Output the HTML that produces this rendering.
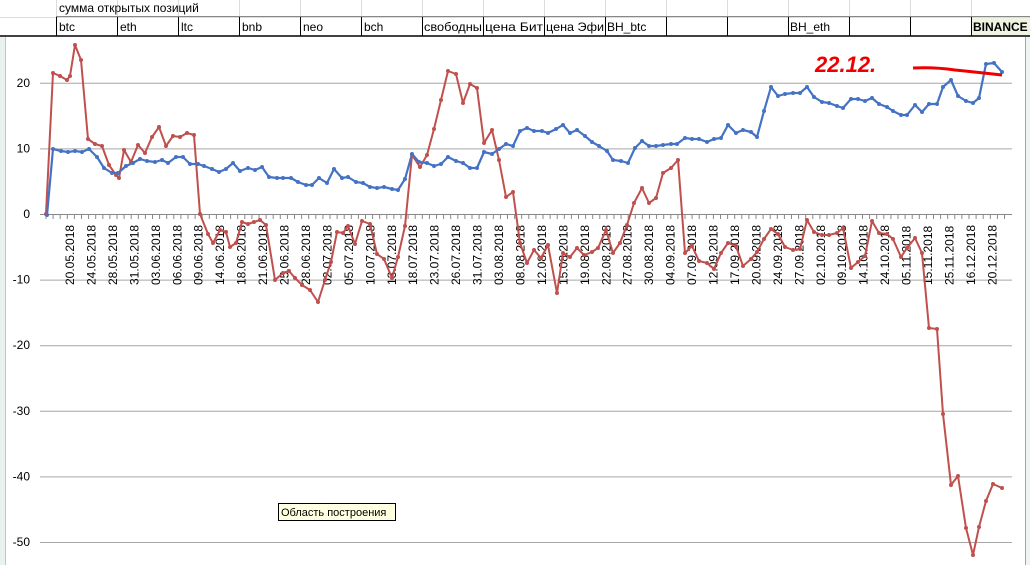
<!DOCTYPE html>
<html><head><meta charset="utf-8"><style>
html,body{margin:0;padding:0;width:1030px;height:565px;overflow:hidden;background:#fff;font-family:"Liberation Sans","DejaVu Sans",sans-serif}
svg{position:absolute;left:0;top:0}
</style></head><body>
<svg id="s" width="1030" height="565" xmlns="http://www.w3.org/2000/svg" font-family="Liberation Sans, DejaVu Sans, sans-serif">
<rect x="0" y="0" width="1030" height="36" fill="#fff"/>
<rect x="971" y="17" width="59" height="19" fill="#eef3e2"/>
<g stroke="#dadcdd" stroke-width="1">
<line x1="0" y1="17.5" x2="1030" y2="17.5"/>
<line x1="56.5" y1="0" x2="56.5" y2="17"/><line x1="117.5" y1="0" x2="117.5" y2="17"/><line x1="178.5" y1="0" x2="178.5" y2="17"/><line x1="239.5" y1="0" x2="239.5" y2="17"/><line x1="300.5" y1="0" x2="300.5" y2="17"/><line x1="361.5" y1="0" x2="361.5" y2="17"/><line x1="422.5" y1="0" x2="422.5" y2="17"/><line x1="483.5" y1="0" x2="483.5" y2="17"/><line x1="544.5" y1="0" x2="544.5" y2="17"/><line x1="605.5" y1="0" x2="605.5" y2="17"/><line x1="666.5" y1="0" x2="666.5" y2="17"/><line x1="727.5" y1="0" x2="727.5" y2="17"/><line x1="788.5" y1="0" x2="788.5" y2="17"/><line x1="849.5" y1="0" x2="849.5" y2="17"/><line x1="910.5" y1="0" x2="910.5" y2="17"/><line x1="971.5" y1="0" x2="971.5" y2="17"/>
</g>
<g stroke="#000" stroke-width="1">
<line x1="56" y1="16.5" x2="1030" y2="16.5" stroke="#888"/>
<line x1="0" y1="36" x2="1030" y2="36" stroke-width="1.5"/>
<line x1="56.5" y1="17" x2="56.5" y2="36"/><line x1="117.5" y1="17" x2="117.5" y2="36"/><line x1="178.5" y1="17" x2="178.5" y2="36"/><line x1="239.5" y1="17" x2="239.5" y2="36"/><line x1="300.5" y1="17" x2="300.5" y2="36"/><line x1="361.5" y1="17" x2="361.5" y2="36"/><line x1="422.5" y1="17" x2="422.5" y2="36"/><line x1="483.5" y1="17" x2="483.5" y2="36"/><line x1="544.5" y1="17" x2="544.5" y2="36"/><line x1="605.5" y1="17" x2="605.5" y2="36"/><line x1="666.5" y1="17" x2="666.5" y2="36"/><line x1="727.5" y1="17" x2="727.5" y2="36"/><line x1="788.5" y1="17" x2="788.5" y2="36"/><line x1="849.5" y1="17" x2="849.5" y2="36"/><line x1="910.5" y1="17" x2="910.5" y2="36"/><line x1="971.5" y1="17" x2="971.5" y2="36"/>
</g>
<g font-size="12" fill="#000">
<text x="59" y="12">сумма открытых позиций</text>
<text x="59" y="31">btc</text><text x="120" y="31">eth</text><text x="181" y="31">ltc</text><text x="242" y="31">bnb</text><text x="303" y="31">neo</text><text x="364" y="31">bch</text>
<text x="424" y="31" textLength="58" lengthAdjust="spacingAndGlyphs">свободны</text>
<text x="485" y="31" textLength="58" lengthAdjust="spacingAndGlyphs">цена Бит</text>
<text x="546" y="31" textLength="58" lengthAdjust="spacingAndGlyphs">цена Эфи</text>
<text x="607" y="31">BH_btc</text><text x="790" y="31">BH_eth</text>
<text x="973" y="31" font-weight="bold">BINANCE</text>
</g>
<rect x="0" y="37" width="5" height="528" fill="#e9f2f0"/>
<line x1="5.5" y1="37" x2="5.5" y2="565" stroke="#b9c6cc"/>
<rect x="1026" y="37" width="4" height="528" fill="#eef6f3"/>
<line x1="1025.5" y1="37" x2="1025.5" y2="565" stroke="#9aa"/>
<g id="grid" stroke="#a6a6a6" stroke-width="1"></g>
<g id="ylab" font-size="12" fill="#000" text-anchor="end"></g>
<g id="xt" stroke="#888"></g>
<g id="xlab" font-size="12" fill="#000"></g>
<polyline id="red" fill="none" stroke="#c0504d" stroke-width="2" stroke-linejoin="round"/>
<polyline id="blue" fill="none" stroke="#4472c4" stroke-width="2.2" stroke-linejoin="round"/>
<g id="mk"></g>
<text x="815" y="72" font-size="22" fill="#e00" font-style="italic" font-weight="bold" font-family="Liberation Sans, sans-serif">22.12.</text>
<path d="M913 68 Q935 67 955 70 Q975 72 1002 75" fill="none" stroke="#e00" stroke-width="3"/>
<rect x="278.5" y="503.5" width="117" height="17" fill="#ffffe1" stroke="#000"/>
<text x="281" y="516" font-size="11">Область построения</text>
</svg>
<script>
var ns="http://www.w3.org/2000/svg";
function el(p,t,a,txt){var e=document.createElementNS(ns,t);for(var k in a)e.setAttribute(k,a[k]);if(txt)e.textContent=txt;document.getElementById(p).appendChild(e);return e;}
var y0=214,k=6.56;
for(var v=20;v>=-50;v-=10){var y=y0-v*k;if(v!=0)el("grid","line",{x1:40,x2:1012,y1:y+.5,y2:y+.5});el("ylab","text",{x:30,y:y+4},String(v));}
el("grid","line",{x1:40,x2:1012,y1:y0+.5,y2:y0+.5,stroke:"#888"});
for(var x=46;x<=1010;x+=7.1)el("xt","line",{x1:x,x2:x,y1:y0,y2:y0+5});
var d="20.05 24.05 28.05 31.05 03.06 06.06 09.06 14.06 18.06 21.06 25.06 28.06 02.07 05.07 10.07 13.07 18.07 23.07 26.07 31.07 03.08 08.08 12.08 15.08 19.08 22.08 27.08 30.08 04.09 07.09 12.09 17.09 20.09 24.09 27.09 02.10 09.10 14.10 24.10 05.11 15.11 25.11 16.12 20.12".split(" ");
d.forEach(function(s,i){var x=74+i*21.45;el("xlab","text",{transform:"translate("+x+",285) rotate(-90)"},s+".2018");});
var red=[46,214,53,73,60,76,67,80,70,76,75,45,81,60,88,139,95,144,102,146,109,165,116,175,119,178,124,150,131,162,138,145,145,153,152,137,159,127,166,146,173,136,180,137,187,133,194,135,200,214,208,234,213,243,220,230,226,232,230,247,236,243,242,222,248,224,254,222,260,220,266,225,275,280,283,273,289,271,295,278,302,285,310,290,318,302,325,280,331,262,337,232,343,233,348,226,355,244,362,221,370,224,377,254,384,259,392,278,398,257,405,226,412,155,420,167,427,155,434,129,441,100,448,71,456,74,463,103,470,84,477,88,484,143,492,130,499,160,506,197,513,192,520,243,527,263,534,250,541,258,548,245,557,293,563,253,570,257,577,248,584,255,592,252,598,248,606,230,613,253,620,243,627,225,634,203,642,188,649,203,656,198,663,173,671,168,678,160,685,253,692,246,699,261,707,263,714,269,721,253,728,243,736,246,743,266,751,259,757,252,764,239,771,229,778,234,785,247,793,250,800,249,807,220,814,232,822,235,829,235,837,233,843,228,851,268,858,262,865,256,872,221,879,233,887,234,893,239,901,257,907,248,915,238,922,253,929,328,937,329,943,414,951,485,958,476,966,528,973,555,979,527,986,501,993,484,1002,488];
var blue=[47,215,53,149,61,151,68,152,75,151,82,152,89,149,97,157,104,168,112,173,118,173,126,166,133,163,140,159,147,161,155,162,162,160,168,163,176,157,183,157,190,164,198,164,204,166,212,169,219,172,226,169,233,163,240,171,248,168,255,170,262,167,269,177,277,178,283,178,291,178,298,182,306,185,312,185,319,178,327,183,334,169,342,178,348,177,356,182,363,183,370,187,377,188,384,187,392,189,398,190,405,179,412,154,419,162,427,163,434,166,441,164,448,157,456,161,463,163,470,168,477,168,484,152,492,154,499,149,506,144,513,146,520,131,527,128,534,131,542,131,548,133,556,129,563,125,570,133,577,130,585,136,592,142,599,146,607,151,613,160,621,161,628,163,635,148,642,141,649,146,656,146,663,145,671,144,677,144,685,138,692,139,699,139,707,142,714,139,721,138,728,125,736,133,743,130,751,132,757,137,764,111,771,87,778,96,785,94,793,93,800,93,807,87,814,97,822,102,829,103,837,106,843,108,851,99,858,99,865,101,872,98,879,104,887,107,893,111,901,115,907,115,915,105,922,112,929,104,937,104,943,87,951,80,958,96,966,101,973,103,979,98,986,64,994,63,1002,72];
function pts(a){var s="";for(var i=0;i<a.length;i+=2)s+=a[i]+","+a[i+1]+" ";return s;}
document.getElementById("red").setAttribute("points",pts(red));
document.getElementById("blue").setAttribute("points",pts(blue));
for(var i=0;i<red.length;i+=2)el("mk","circle",{cx:red[i],cy:red[i+1],r:2,fill:"#c0504d"});
for(var i=0;i<blue.length;i+=2)el("mk","circle",{cx:blue[i],cy:blue[i+1],r:2,fill:"#4472c4"});
</script>
</body></html>
